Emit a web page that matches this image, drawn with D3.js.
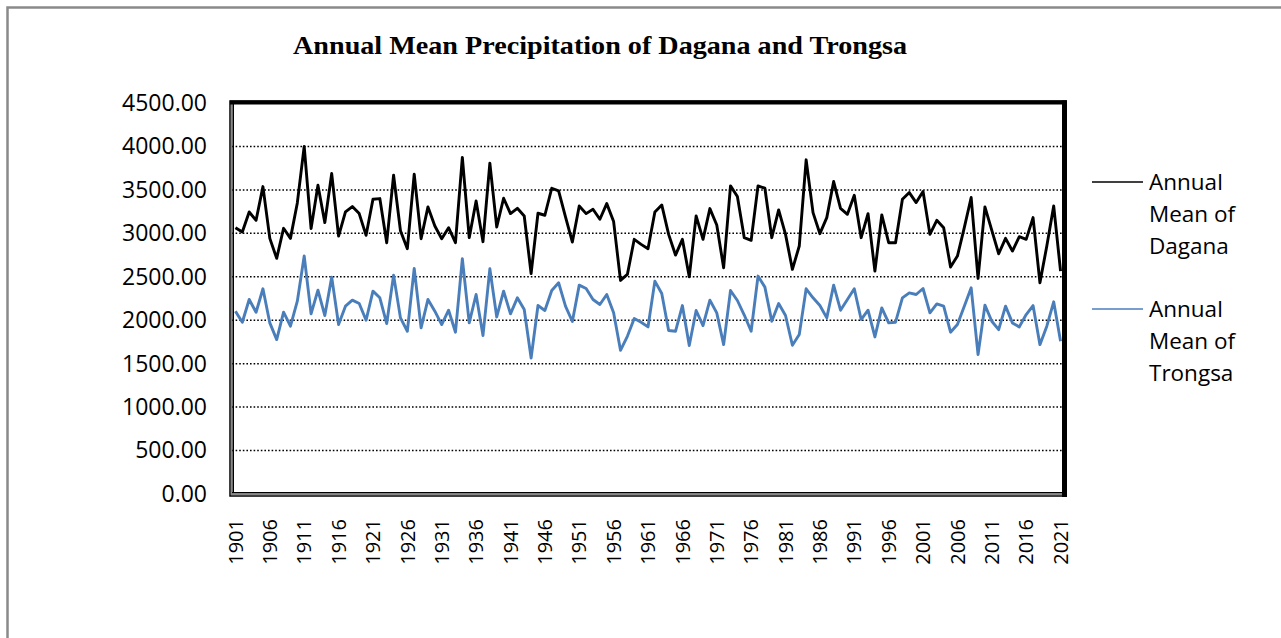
<!DOCTYPE html>
<html>
<head>
<meta charset="utf-8">
<script src="https://cdn.jsdelivr.net/npm/d3@7"></script>
<style>
  body { margin: 0; background: #fff; }
  svg { display: block; }
</style>
</head>
<body>
<svg id="chart" width="1281" height="638"></svg>
<script>

/////// Data

var years = d3.range(1901, 2022);

var dagana = [
  3065, 3015, 3246, 3150, 3538, 2942, 2712, 3058, 2942, 3350,
  4000, 3054, 3554, 3123, 3688, 2969, 3246, 3308, 3227, 2977,
  3392, 3400, 2892, 3669, 3030, 2823, 3681, 2938, 3304, 3085,
  2938, 3065, 2892, 3873, 2950, 3373, 2904, 3808, 3073, 3404,
  3227, 3288, 3200, 2538, 3231, 3208, 3519, 3488, 3189, 2900,
  3315, 3227, 3277, 3162, 3342, 3135, 2458, 2527, 2931, 2873,
  2823, 3246, 3327, 2988, 2750, 2931, 2500, 3200, 2931, 3285,
  3096, 2604, 3546, 3423, 2950, 2919, 3546, 3519, 2950, 3269,
  2988, 2585, 2854, 3846, 3238, 2996, 3181, 3596, 3288, 3219,
  3438, 2950, 3227, 2565, 3212, 2892, 2892, 3392, 3469, 3354,
  3481, 2988, 3150, 3065, 2612, 2738, 3065, 3412, 2481, 3304,
  3035, 2765, 2942, 2796, 2962, 2931, 3181, 2431, 2854, 3315,
  2565
];

var trongsa = [
  2104, 1977, 2239, 2092, 2362, 1969, 1777, 2092, 1931, 2219,
  2739, 2073, 2346, 2054, 2496, 1950, 2162, 2231, 2192, 2000,
  2335, 2258, 1962, 2519, 2027, 1873, 2596, 1912, 2239, 2104,
  1950, 2115, 1862, 2708, 1969, 2296, 1823, 2592, 2038, 2335,
  2073, 2258, 2123, 1565, 2169, 2112, 2342, 2431, 2162, 1985,
  2404, 2365, 2238, 2181, 2296, 2085, 1654, 1815, 2019, 1977,
  1923, 2450, 2308, 1881, 1873, 2169, 1708, 2112, 1938, 2231,
  2085, 1719, 2342, 2227, 2060, 1873, 2508, 2381, 1988, 2192,
  2054, 1712, 1835, 2362, 2258, 2169, 2027, 2404, 2115, 2238,
  2362, 2008, 2115, 1808, 2142, 1969, 1977, 2258, 2315, 2296,
  2365, 2085, 2188, 2162, 1862, 1950, 2162, 2373, 1604, 2173,
  1988, 1892, 2162, 1969, 1923, 2065, 2169, 1719, 1931, 2212,
  1758
];

var yTicks = [0, 500, 1000, 1500, 2000, 2500, 3000, 3500, 4000, 4500];
var xTickYears = years.filter(function (d) { return (d - 1901) % 5 === 0; });

var seriesNames = [
  ['Annual', 'Mean of', 'Dagana'],
  ['Annual', 'Mean of', 'Trongsa']
];
var seriesColors = ['#000000', '#4a7ebb'];

/////// Setup

var svg = d3.select('#chart');

var plot = { left: 232, right: 1064, top: 103, bottom: 494 };

var x = d3.scaleBand()
    .domain(years)
    .range([plot.left, plot.right])
    .padding(0);

var xc = function (d) { return x(d) + x.bandwidth() / 2; };

var y = d3.scaleLinear()
    .domain([0, 4500])
    .range([plot.bottom, plot.top]);

// outer chart border (runs off the right / bottom of the shot)
svg.append('rect')
    .attr('x', 7.5)
    .attr('y', 7.5)
    .attr('width', 1400)
    .attr('height', 800)
    .attr('fill', 'none')
    .attr('stroke', '#8a8a8a')
    .attr('stroke-width', 2.5);

// title
svg.append('text')
    .attr('x', 600)
    .attr('y', 54)
    .attr('text-anchor', 'middle')
    .attr('textLength', 614)
    .attr('lengthAdjust', 'spacingAndGlyphs')
    .style('font-family', '"Liberation Serif", "Times New Roman", serif')
    .style('font-weight', 'bold')
    .style('font-size', '25px')
    .text('Annual Mean Precipitation of Dagana and Trongsa');

//// Grid

svg.append('g')
  .selectAll('line')
  .data(yTicks.filter(function (d) { return d > 0 && d < 4500; }))
  .join('line')
      .attr('x1', plot.left)
      .attr('x2', plot.right - 2)
      .attr('y1', function (d) { return y(d); })
      .attr('y2', function (d) { return y(d); })
      .attr('stroke', '#000')
      .attr('stroke-width', 1.5)
      .attr('stroke-dasharray', '1.6,2');

//// Axes

var yAxis = svg.append('g')
    .attr('transform', 'translate(' + (plot.left - 2) + ',0)')
    .call(d3.axisLeft(y)
        .tickValues(yTicks)
        .tickFormat(d3.format('.2f'))
        .tickSize(0)
        .tickPadding(23));

yAxis.select('.domain').remove();
yAxis.selectAll('text')
    .style('font-family', '"Open Sans", sans-serif')
    .style('font-size', '23px')
    .attr('fill', '#000');

var xAxis = svg.append('g')
    .attr('transform', 'translate(0,' + (plot.bottom + 1) + ')')
    .call(d3.axisBottom(x)
        .tickValues(xTickYears)
        .tickSize(0));

xAxis.select('.domain').remove();
xAxis.selectAll('text')
    .attr('transform', 'rotate(-90)')
    .attr('x', -24)
    .attr('y', 0)
    .attr('dy', '0.36em')
    .attr('text-anchor', 'end')
    .attr('fill', '#000')
    .style('font-family', '"Open Sans", sans-serif')
    .style('font-size', '20px');

//// Lines

var line = d3.line()
    .x(function (d, i) { return xc(years[i]); })
    .y(function (d) { return y(d); });

[dagana, trongsa].forEach(function (values, k) {
  svg.append('path')
      .datum(values)
      .attr('d', line)
      .attr('fill', 'none')
      .attr('stroke', seriesColors[k])
      .attr('stroke-width', 2.9)
      .attr('stroke-linejoin', 'round');
});

//// Plot frame (double line left/bottom, heavy top/right)

var frame = svg.append('g');

frame.append('rect')
    .attr('x', 230)
    .attr('y', 101)
    .attr('width', 836)
    .attr('height', 395)
    .attr('fill', 'none')
    .attr('stroke', '#000')
    .attr('stroke-width', 1.5);

frame.append('line')
    .attr('x1', 233.2).attr('x2', 233.2)
    .attr('y1', 103).attr('y2', 493)
    .attr('stroke', '#000')
    .attr('stroke-width', 1.6);

frame.append('line')
    .attr('x1', 231.6).attr('x2', 231.6)
    .attr('y1', 103).attr('y2', 494.5)
    .attr('stroke', '#888')
    .attr('stroke-width', 1.2);

frame.append('line')
    .attr('x1', 232).attr('x2', 1063)
    .attr('y1', 492.8).attr('y2', 492.8)
    .attr('stroke', '#000')
    .attr('stroke-width', 1.6);

frame.append('line')
    .attr('x1', 231).attr('x2', 1064)
    .attr('y1', 494.4).attr('y2', 494.4)
    .attr('stroke', '#888')
    .attr('stroke-width', 1.2);

frame.append('rect')
    .attr('x', 230)
    .attr('y', 100.5)
    .attr('width', 837)
    .attr('height', 4)
    .attr('fill', '#000');

frame.append('rect')
    .attr('x', 1062)
    .attr('y', 100.5)
    .attr('width', 5)
    .attr('height', 396.5)
    .attr('fill', '#000');

//// Legend

var legend = svg.append('g');

[182, 309].forEach(function (ly, k) {
  var g = legend.append('g');
  g.append('line')
      .attr('x1', 1092)
      .attr('x2', 1143)
      .attr('y1', ly)
      .attr('y2', ly)
      .attr('stroke', seriesColors[k])
      .attr('stroke-width', 1.6);
  g.selectAll('text')
    .data(seriesNames[k])
    .join('text')
        .attr('x', 1149)
        .attr('y', function (d, i) { return ly + i * 32.3; })
        .attr('dy', '0.35em')
        .style('font-family', '"Open Sans", sans-serif')
        .style('font-size', '22.5px')
        .text(function (d) { return d; });
});

</script>
</body>
</html>
